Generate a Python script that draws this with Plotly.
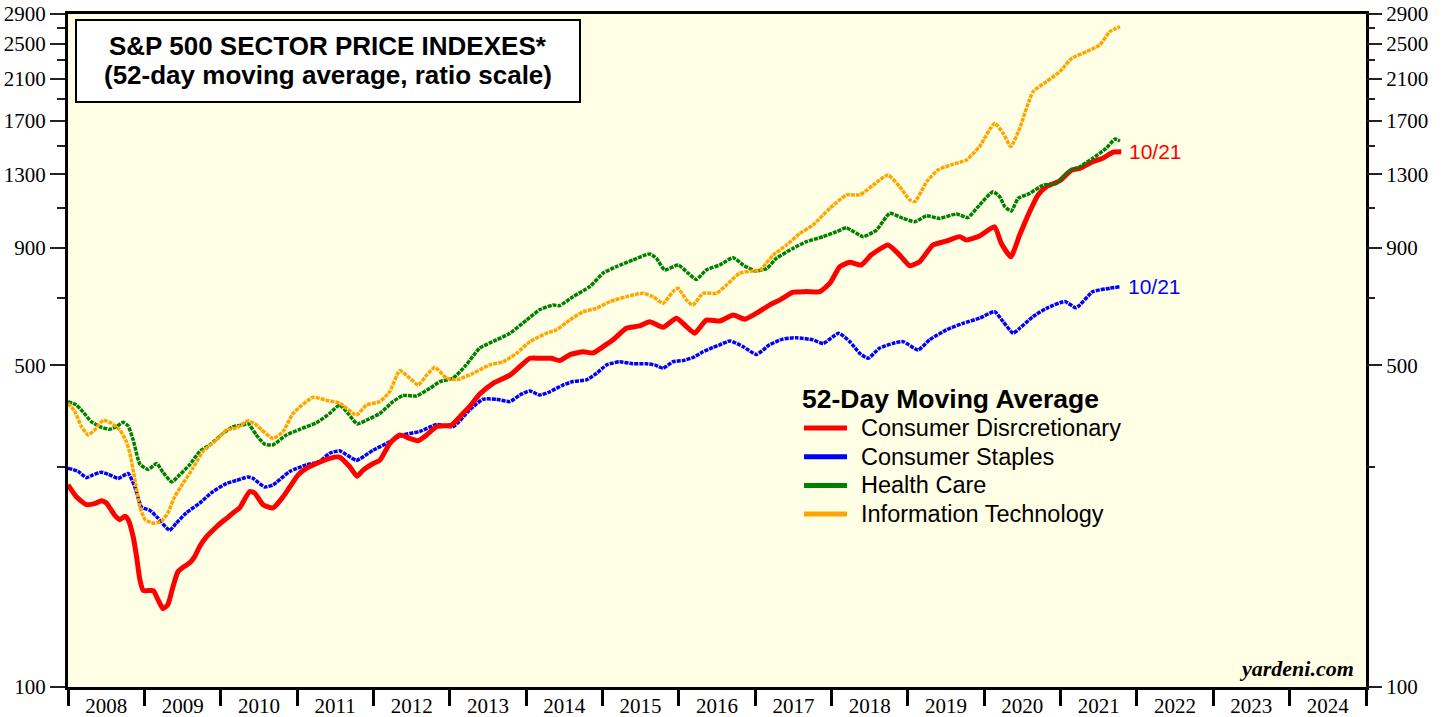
import math
import plotly.graph_objects as go

# ---------------- data ----------------
cd_dates = ["2008-01-01","2008-02-10","2008-03-29","2008-05-15","2008-06-09","2008-07-03","2008-08-12","2008-09-05",
            "2008-09-29","2008-10-15","2008-11-08","2008-11-24","2008-12-10","2008-12-26","2009-01-19","2009-02-12",
            "2009-03-06","2009-03-30","2009-04-23","2009-05-17","2009-06-10","2009-07-12","2009-08-05","2009-08-29",
            "2009-09-22","2009-10-24","2009-12-03","2010-01-05","2010-02-06","2010-03-01","2010-04-01","2010-05-19",
            "2010-06-12","2010-07-22","2010-09-08","2010-10-26","2010-11-27","2011-01-06","2011-02-16","2011-04-03",
            "2011-06-06","2011-07-23","2011-09-10","2011-10-15","2011-11-13","2011-12-31","2012-02-01","2012-03-19",
            "2012-05-06","2012-06-23","2012-08-02","2012-09-12","2012-10-29","2013-01-10","2013-02-19","2013-04-06",
            "2013-05-24","2013-07-27","2013-10-15","2013-12-02","2014-01-19","2014-03-06","2014-05-01","2014-06-10",
            "2014-07-28","2014-10-01","2014-11-17","2015-01-04","2015-02-21","2015-04-25","2015-06-28","2015-08-15",
            "2015-10-18","2015-12-21","2016-02-07","2016-03-17","2016-05-12","2016-07-15","2016-09-17","2016-11-12",
            "2017-01-07","2017-03-10","2017-04-27","2017-07-01","2017-09-03","2017-11-06","2017-12-24","2018-02-10",
            "2018-03-29","2018-05-23","2018-07-09","2018-09-28","2018-11-23","2019-01-10","2019-02-27","2019-05-01",
            "2019-07-04","2019-09-06","2019-10-08","2019-12-10","2020-02-20","2020-03-23","2020-05-08","2020-06-19",
            "2020-08-06","2020-09-15","2020-10-25","2020-12-28","2021-02-23","2021-04-03","2021-06-04","2021-07-22",
            "2021-09-08","2021-10-18"]
cd_values = [275,259,249,251,254,251,236,231,
             235,231,212,192,171,162,162,162,
             155,148,151,165,178,183,186,192,
             202,212,221,228,234,239,245,266,
             264,249,245,259,272,289,299,306,
             314,316,301,287,296,306,311,338,
             353,347,343,353,368,371,387,407,
             433,457,476,497,518,518,518,512,
             527,535,532,549,568,602,609,622,
             605,633,607,587,627,624,643,630,
             649,676,693,721,723,723,754,819,
             837,826,868,913,868,823,840,913,
             931,952,936,955,1000,921,861,960,
             1079,1173,1222,1259,1329,1340,1385,1409,
             1452,1455]

cs_dates = ["2008-01-01","2008-02-19","2008-03-29","2008-04-30","2008-06-09","2008-07-11","2008-08-28","2008-10-15",
            "2008-11-16","2008-12-18","2009-01-27","2009-03-06","2009-05-01","2009-06-02","2009-07-20","2009-09-22",
            "2009-11-25","2010-01-29","2010-03-16","2010-05-11","2010-06-04","2010-07-30","2010-09-08","2010-11-27",
            "2011-02-16","2011-04-19","2011-06-06","2011-07-23","2011-10-12","2011-12-31","2012-03-19","2012-05-22",
            "2012-08-10","2012-10-29","2013-01-17","2013-04-06","2013-06-09","2013-08-12","2013-10-15","2013-12-02",
            "2014-01-19","2014-03-06","2014-04-24","2014-06-26","2014-08-13","2014-10-16","2014-12-03","2015-01-21",
            "2015-03-24","2015-05-26","2015-07-29","2015-09-08","2015-10-18","2015-12-04","2016-01-21","2016-03-09",
            "2016-04-26","2016-06-13","2016-07-15","2016-09-01","2016-11-04","2017-01-07","2017-03-10","2017-05-13",
            "2017-07-16","2017-10-04","2017-11-22","2018-02-04","2018-03-29","2018-05-16","2018-06-25","2018-08-19",
            "2018-10-22","2018-12-09","2019-02-19","2019-04-15","2019-07-04","2019-09-22","2019-12-10","2020-02-20",
            "2020-04-01","2020-05-19","2020-06-19","2020-08-22","2020-10-25","2021-01-21","2021-03-16","2021-06-04",
            "2021-08-24","2021-10-12"]
cs_values = [299,294,285,289,293,290,284,291,
             272,246,242,233,219,227,239,251,
             266,277,281,286,284,272,275,294,
             304,309,322,326,311,327,341,353,
             359,372,368,400,422,422,417,431,
             440,431,438,453,461,465,480,501,
             509,504,504,501,493,509,512,520,
             535,547,554,565,549,528,554,570,
             574,568,558,587,563,531,518,545,
             558,563,540,568,597,617,633,654,
             622,587,602,638,665,688,667,723,
             735,741]

hc_dates = ["2008-01-01","2008-02-10","2008-03-13","2008-04-22","2008-06-01","2008-07-18","2008-08-20","2008-09-21",
            "2008-10-15","2008-11-08","2008-12-10","2009-01-19","2009-02-28","2009-03-30","2009-05-11","2009-06-18",
            "2009-08-05","2009-09-22","2009-11-10","2010-01-13","2010-03-01","2010-04-17","2010-05-11","2010-06-20",
            "2010-07-30","2010-09-08","2010-11-11","2011-01-14","2011-04-03","2011-06-06","2011-07-23","2011-09-02",
            "2011-10-15","2011-11-29","2012-02-01","2012-04-04","2012-05-22","2012-07-25","2012-09-28","2012-11-15",
            "2013-01-17","2013-03-20","2013-05-24","2013-08-12","2013-10-15","2014-01-03","2014-03-06","2014-05-09",
            "2014-06-10","2014-08-13","2014-11-01","2015-01-04","2015-03-08","2015-05-26","2015-08-15","2015-09-16",
            "2015-10-26","2015-12-29","2016-02-15","2016-03-25","2016-05-12","2016-07-15","2016-09-17","2016-11-04",
            "2017-01-01","2017-02-25","2017-04-12","2017-07-01","2017-09-03","2017-11-22","2018-01-25","2018-03-13",
            "2018-06-01","2018-08-04","2018-10-07","2018-12-09","2019-02-04","2019-04-01","2019-06-01","2019-08-22",
            "2019-10-15","2019-12-10","2020-02-12","2020-03-15","2020-04-09","2020-05-10","2020-06-12","2020-08-06",
            "2020-10-09","2020-12-12","2021-02-06","2021-04-03","2021-06-04","2021-08-07","2021-09-18","2021-10-12"]
hc_values = [417,410,396,377,368,363,368,376,
             369,344,305,297,306,293,279,289,
             304,325,336,356,368,371,374,353,
             337,336,353,363,375,393,410,393,
             373,380,393,417,430,429,446,461,
             469,501,545,568,587,627,660,676,
             674,705,741,793,819,847,873,854,
             806,826,793,768,806,826,857,826,
             802,812,854,898,928,952,976,995,
             952,984,1070,1043,1026,1057,1043,1066,
             1047,1115,1192,1163,1106,1082,1153,1182,
             1232,1243,1318,1351,1409,1481,1551,1536]

it_dates = ["2008-01-01","2008-02-03","2008-03-05","2008-04-06","2008-05-08","2008-06-17","2008-07-27","2008-09-05",
            "2008-10-07","2008-10-23","2008-11-16","2008-12-10","2009-01-04","2009-02-12","2009-03-22","2009-04-23",
            "2009-05-25","2009-07-04","2009-08-21","2009-10-08","2009-12-11","2010-01-29","2010-03-16","2010-05-11",
            "2010-06-20","2010-07-15","2010-09-08","2010-10-26","2010-12-13","2011-03-17","2011-05-20","2011-07-23",
            "2011-10-12","2011-11-29","2012-02-01","2012-03-19","2012-05-06","2012-06-23","2012-08-02","2012-09-12",
            "2012-10-21","2012-12-16","2013-02-03","2013-04-21","2013-07-10","2013-09-13","2013-11-16","2014-01-19",
            "2014-04-08","2014-05-25","2014-07-28","2014-10-01","2014-12-03","2015-02-06","2015-04-25","2015-07-13",
            "2015-08-31","2015-10-18","2015-12-04","2015-12-29","2016-02-07","2016-03-09","2016-04-26","2016-06-29",
            "2016-08-16","2016-10-18","2016-12-22","2017-01-24","2017-03-28","2017-05-31","2017-08-03","2017-10-04",
            "2017-12-24","2018-03-13","2018-05-16","2018-07-19","2018-09-28","2018-11-23","2019-01-10","2019-02-04",
            "2019-04-01","2019-05-25","2019-08-04","2019-10-08","2019-12-10","2020-02-20","2020-04-01","2020-05-08",
            "2020-06-19","2020-08-22","2020-10-25","2020-12-28","2021-02-23","2021-05-04","2021-07-07","2021-08-24",
            "2021-10-12"]
it_values = [414,397,368,353,362,380,374,362,
             341,322,282,246,231,227,229,239,
             259,277,299,325,344,362,365,379,
             371,362,347,359,393,426,420,414,
             390,410,417,438,487,469,453,476,
             495,469,465,480,501,509,531,563,
             587,597,627,654,665,688,705,717,
             705,682,723,735,693,676,717,717,
             747,793,802,806,868,913,968,1009,
             1097,1173,1173,1232,1296,1222,1144,1134,
             1253,1329,1367,1397,1494,1679,1597,1494,
             1637,1966,2067,2173,2323,2401,2483,2654,
             2722]

series_names = ["Consumer Disrcretionary", "Consumer Staples", "Health Care", "Information Technology"]
series_colors = ["#FF0000", "#0000FF", "#008000", "#FFA500"]
legend_title = "52-Day Moving Average"
title_lines = ["S&P 500 SECTOR PRICE INDEXES*", "(52-day moving average, ratio scale)"]

y_tick_vals = [100, 500, 900, 1300, 1700, 2100, 2500, 2900]
y_tick_text = ["100", "500", "900", "1300", "1700", "2100", "2500", "2900"]
y_minor_vals = [300, 700, 1100, 1500, 1900, 2300, 2700]
x_range = ["2008-01-01", "2025-01-01"]
last_label = "10/21"

# ---------------- figure ----------------
SERIF = "Liberation Serif, Times New Roman, serif"
SANS = "Liberation Sans, Arial, sans-serif"

# plot-area geometry in pixels (used only for placing layout items)
W, H = 1446, 717
ML, MR, MT, MB = 68, 80, 14, 30
PW, PH = W - ML - MR, H - MT - MB


def px_x(px):
    return (px - ML) / PW


def px_y(py):
    return (H - MB - py) / PH


fig = go.Figure()
dot = "4px,1px"
smooth = dict(shape="spline", smoothing=0.5)
fig.add_trace(go.Scatter(x=cs_dates, y=cs_values, mode="lines", showlegend=False, hoverinfo="skip",
                         line=dict(color=series_colors[1], width=3.5, dash=dot, **smooth)))
fig.add_trace(go.Scatter(x=cd_dates, y=cd_values, mode="lines", showlegend=False, hoverinfo="skip",
                         line=dict(color=series_colors[0], width=5, **smooth)))
fig.add_trace(go.Scatter(x=hc_dates, y=hc_values, mode="lines", showlegend=False, hoverinfo="skip",
                         line=dict(color=series_colors[2], width=3.5, dash=dot, **smooth)))
fig.add_trace(go.Scatter(x=it_dates, y=it_values, mode="lines", showlegend=False, hoverinfo="skip",
                         line=dict(color=series_colors[3], width=3.5, dash=dot, **smooth)))
# invisible copy on the right-hand axis so that it is drawn
fig.add_trace(go.Scatter(x=cs_dates, y=cs_values, mode="lines", showlegend=False, hoverinfo="skip",
                         yaxis="y2", opacity=0, line=dict(width=0)))

ylog_range = [math.log10(y_tick_vals[0]), math.log10(y_tick_vals[-1])]
common_y = dict(type="log", range=ylog_range, tickmode="array", tickvals=y_tick_vals, ticktext=y_tick_text,
                ticks="outside", ticklen=15, tickwidth=2, tickcolor="#222",
                minor=dict(tickmode="array", tickvals=y_minor_vals, ticks="outside", ticklen=8,
                           tickwidth=2, tickcolor="#222"),
                showgrid=False, zeroline=False, tickfont=dict(family=SERIF, size=21, color="black"),
                automargin=False, fixedrange=True)

fig.update_layout(
    template="none",
    width=W, height=H,
    margin=dict(l=ML, r=MR, t=MT, b=MB, pad=0),
    paper_bgcolor="white",
    plot_bgcolor="#FFFFE6",
    showlegend=False,
    xaxis=dict(type="date", range=x_range, tickmode="linear", tick0="2008-01-01", dtick="M12",
               ticklabelmode="period", tickformat="%Y", ticks="outside", ticklen=16, tickwidth=3,
               tickcolor="black", showline=True, linewidth=3, linecolor="black", mirror=True,
               showgrid=False, zeroline=False, tickfont=dict(family=SERIF, size=21, color="black"),
               ticklabelstandoff=-18, automargin=False),
    yaxis=dict(showline=True, linewidth=3, linecolor="black", mirror=True, side="left", **common_y),
    yaxis2=dict(overlaying="y", side="right", anchor="x", showline=False, **common_y),
)

# title box
fig.add_shape(type="rect", xref="paper", yref="paper", x0=px_x(76), x1=px_x(580), y0=px_y(102), y1=px_y(20),
              line=dict(color="black", width=2), fillcolor="white", layer="above")
for line_text, cy in zip(title_lines, [46, 75]):
    fig.add_annotation(xref="paper", yref="paper", x=px_x(328), y=px_y(cy), xanchor="center", yanchor="middle",
                       text="<b>" + line_text + "</b>", showarrow=False,
                       font=dict(family=SANS, size=26, color="black"))

# legend (drawn by hand for exact spacing)
fig.add_annotation(xref="paper", yref="paper", x=px_x(800), y=px_y(399), xanchor="left", yanchor="middle",
                   text="<b>" + legend_title + "</b>", showarrow=False,
                   font=dict(family=SANS, size=26.5, color="black"))
for i, (name, col) in enumerate(zip(series_names, series_colors)):
    cy = 428 + i * 28.7
    fig.add_shape(type="line", xref="paper", yref="paper", x0=px_x(804), x1=px_x(847), y0=px_y(cy), y1=px_y(cy),
                  line=dict(color=col, width=5), layer="above")
    fig.add_annotation(xref="paper", yref="paper", x=px_x(859), y=px_y(cy), xanchor="left", yanchor="middle",
                       text=name, showarrow=False, font=dict(family=SANS, size=23.5, color="black"))

fig.add_annotation(x=cd_dates[-1], y=math.log10(cd_values[-1]), xref="x", yref="y", text=last_label,
                   showarrow=False, xanchor="left", xshift=6, font=dict(family=SANS, size=21, color="#FF0000"))
fig.add_annotation(x=cs_dates[-1], y=math.log10(cs_values[-1]), xref="x", yref="y", text=last_label,
                   showarrow=False, xanchor="left", xshift=6, font=dict(family=SANS, size=21, color="#0000FF"))

fig.add_annotation(xref="paper", yref="paper", x=1, y=0, xanchor="right", yanchor="bottom", xshift=-10, yshift=4,
                   text="<b><i>yardeni.com</i></b>", showarrow=False,
                   font=dict(family=SERIF, size=22, color="black"))

fig.write_html("out.html")
